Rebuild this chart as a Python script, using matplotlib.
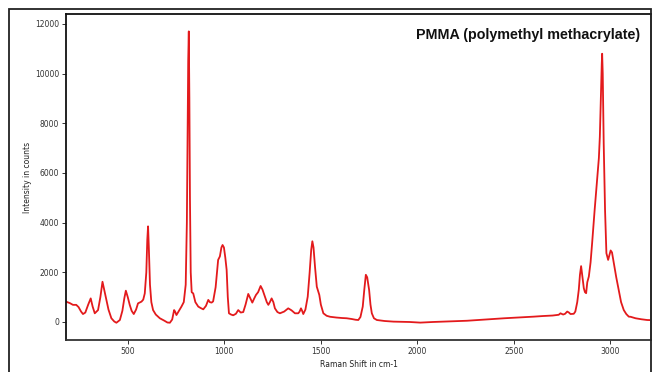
import matplotlib
matplotlib.use("Agg")
import matplotlib.pyplot as plt
from matplotlib.patches import Rectangle

# Raman spectrum of PMMA: shift (cm-1) and intensity (counts)
raman_shift = [
    180, 200, 216, 233, 245, 258, 268, 280, 295, 308, 318, 329, 346, 358, 369,
    378, 389, 400, 415, 430, 441, 459, 472, 482, 490, 500, 510, 520, 531, 543,
    553, 571, 580, 588, 596, 601, 605, 609, 615, 622, 631, 645, 666, 690, 705,
    718, 730, 740, 745, 752, 765, 778, 790, 800, 806, 810, 813, 816, 819, 822,
    826, 831, 839, 850, 865, 878, 891, 905, 917, 925, 934, 942, 955, 968, 977,
    985, 991, 998, 1005, 1012, 1018, 1024, 1035, 1046, 1060, 1072, 1085, 1098,
    1110, 1124, 1135, 1145, 1155, 1164, 1175, 1188, 1198, 1210, 1220, 1228,
    1236, 1245, 1254, 1262, 1275, 1288, 1310, 1331, 1348, 1366, 1383, 1390,
    1397, 1403, 1409, 1420, 1432, 1442, 1450, 1456, 1462, 1470, 1479, 1486,
    1492, 1500, 1513, 1530, 1548, 1580, 1610, 1634, 1660, 1680, 1694, 1705,
    1717, 1725, 1733, 1740, 1750, 1757, 1764, 1775, 1790, 1830, 1876, 1911,
    1960, 2015, 2080, 2150, 2257, 2350, 2450, 2550, 2602, 2650, 2700, 2732,
    2741, 2755, 2765, 2776, 2785, 2793, 2810, 2818, 2828, 2836, 2842, 2848,
    2855, 2862, 2868, 2874, 2880, 2888, 2897, 2905, 2918, 2931, 2940, 2945,
    2950, 2955, 2957, 2960, 2965, 2972, 2979, 2988, 2995, 3001, 3008, 3017,
    3030, 3043, 3055, 3069, 3082, 3095, 3104, 3130, 3160, 3190, 3210,
]
intensity = [
    820, 760, 690, 690, 600, 420, 320, 380, 700, 950, 620, 350, 480, 1000, 1620,
    1300, 890, 500, 150, 20, -30, 80, 450, 950, 1260, 1000, 690, 450, 320, 500,
    750, 820, 900, 1150, 2000, 3300, 3850, 3000, 1500, 800, 480, 300, 150, 50, -20,
    -30, 100, 480, 420, 280, 450, 620, 800, 1500, 4000, 8000, 10500, 11700, 9000, 5000,
    2000, 1200, 1150, 800, 620, 560, 510, 650, 890, 800, 780, 830, 1400, 2500, 2640,
    3000, 3100, 3000, 2600, 2100, 1000, 350, 300, 270, 330, 480, 380, 400,
    700, 1130, 950, 780, 950, 1090, 1200, 1450, 1300, 1020, 800, 690,
    800, 950, 800, 550, 400, 350, 420, 550, 470, 350, 350, 420,
    550, 450, 320, 500, 1020, 2000, 2900, 3250, 3000, 2200, 1420, 1250,
    1090, 700, 350, 250, 210, 180, 160, 150, 120, 90, 80, 200,
    620, 1300, 1900, 1800, 1290, 700, 350, 150, 80, 40, 15, 10,
    0, -25, 0, 20, 50, 100, 150, 190, 215, 240, 260, 290,
    350, 300, 330, 420, 380, 320, 330, 420, 800, 1300, 1900, 2250,
    1800, 1360, 1200, 1160, 1600, 1830, 2400, 3170, 4500, 5720, 6600, 7460,
    9000, 10400, 10800, 10000, 7200, 4500, 2770, 2500, 2700, 2880, 2800, 2400,
    1800, 1290, 800, 480, 320, 215, 210, 150, 110, 80, 75,
]

x_ticks = [500, 1000, 1500, 2000, 2500, 3000]
y_ticks = [0, 2000, 4000, 6000, 8000, 10000, 12000]

W, H, DPI = 654, 372, 100
fig = plt.figure(figsize=(W / DPI, H / DPI), dpi=DPI)
fig.patch.set_facecolor("white")

# outer frame around the whole panel
fig.add_artist(Rectangle((9 / W, -0.05), (651 - 9) / W, 1.05 - 9 / H,
                         transform=fig.transFigure, fill=False,
                         edgecolor="#222222", linewidth=1.3, clip_on=False))

ax = fig.add_axes([66 / W, 1 - 340 / H, (651 - 66) / W, (340 - 14) / H])
ax.plot(raman_shift, intensity, color="#e31a1c", linewidth=1.3)

ax.set_xlim(180, 3210)
ax.set_ylim(-725, 12400)
ax.set_xticks(x_ticks)
ax.set_yticks(y_ticks)
ax.tick_params(axis="both", direction="out", length=3, width=0.7,
               labelsize=5.5, colors="#333333", pad=2)

for side in ("left", "top"):
    ax.spines[side].set_color("#111111")
    ax.spines[side].set_linewidth(1.3)
for side in ("right", "bottom"):
    ax.spines[side].set_color("#777777")
    ax.spines[side].set_linewidth(1.3)
ax.spines["bottom"].set_color("#333333")

ax.set_xlabel("Raman Shift in cm-1", fontsize=5.5, color="#222222", labelpad=3)
ax.set_ylabel("Intensity in counts", fontsize=5.5, color="#222222", labelpad=2)

ax.text(0.982, 0.958, "PMMA (polymethyl methacrylate)", transform=ax.transAxes,
        ha="right", va="top", fontsize=10.3, fontweight="bold",
        family=["Liberation Sans", "DejaVu Sans"], color="#111111")

fig.savefig("out.png", dpi=DPI)
